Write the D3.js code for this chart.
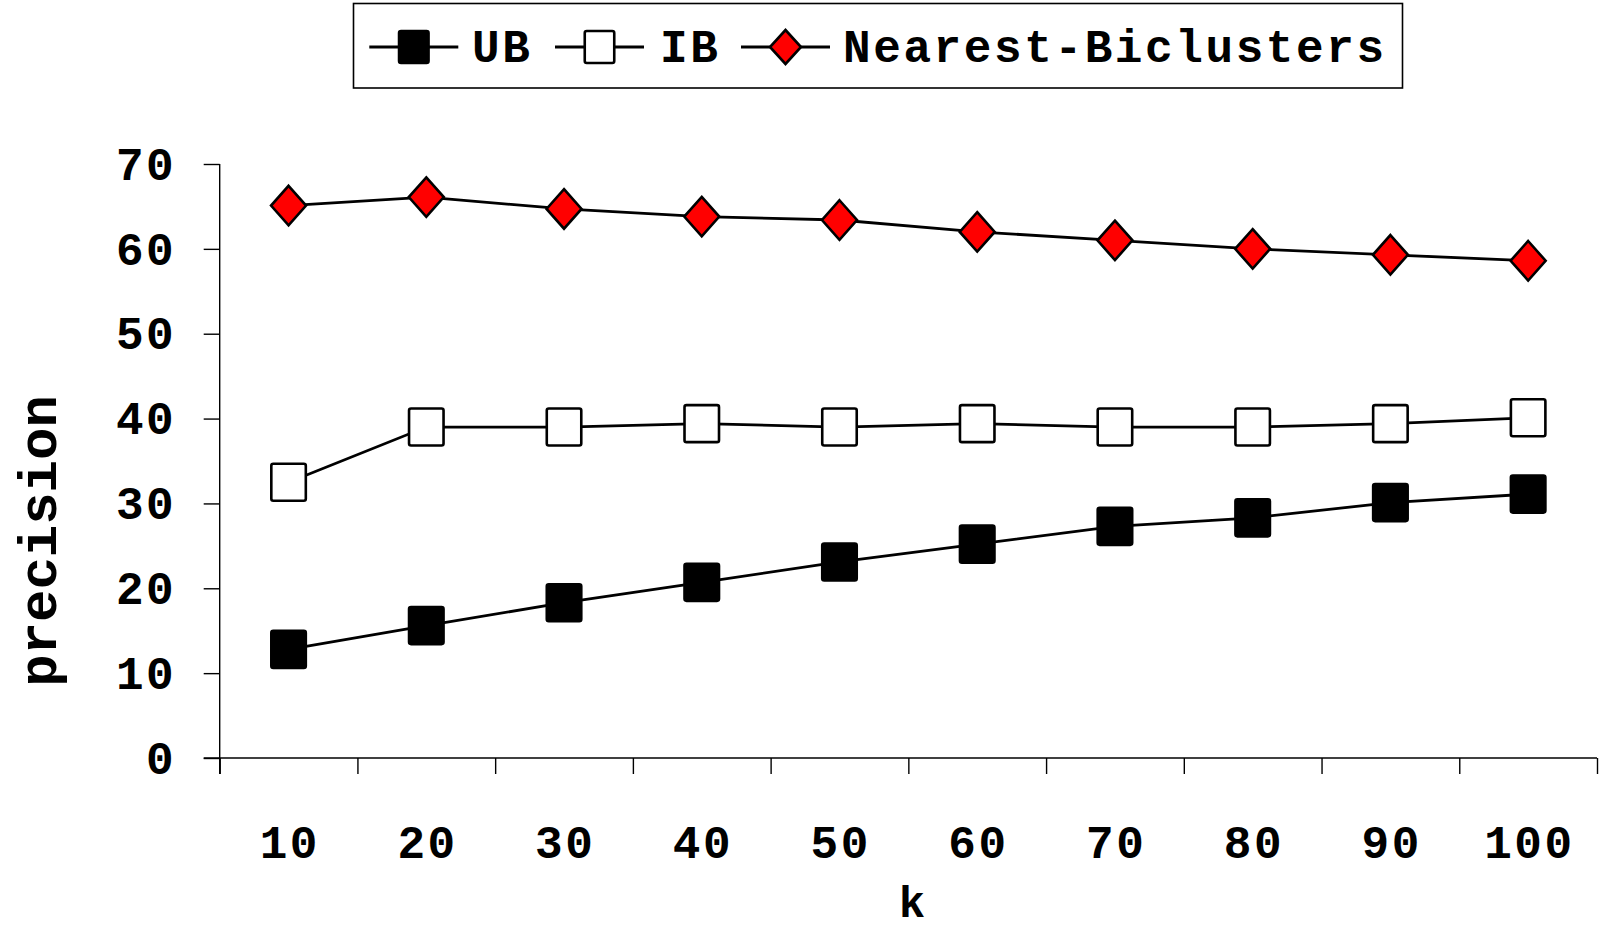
<!DOCTYPE html>
<html>
<head>
<meta charset="utf-8">
<script src="https://cdn.jsdelivr.net/npm/d3@7"></script>
<style>
  html, body { margin: 0; padding: 0; background: #fff; }
  svg { display: block; }
  text { font-family: "Liberation Mono", "DejaVu Sans Mono", monospace; font-weight: bold; fill: #000; }
</style>
</head>
<body>
<svg id="chart" width="1602" height="930"></svg>
<script>
// k values on the x axis
const categories = ["10", "20", "30", "40", "50", "60", "70", "80", "90", "100"];

// precision per method
const ubValues = [12.8, 15.6, 18.3, 20.7, 23.1, 25.2, 27.3, 28.3, 30.1, 31.1];
const ibValues = [32.5, 39.0, 39.0, 39.4, 39.0, 39.4, 39.0, 39.0, 39.4, 40.1];
const nbValues = [65.1, 66.1, 64.7, 63.8, 63.4, 62.0, 61.0, 60.0, 59.3, 58.6];

const seriesNames = ["UB", "IB", "Nearest-Biclusters"];
const yTicks = [0, 10, 20, 30, 40, 50, 60, 70];

const series = [
  { name: seriesNames[0], values: ubValues, shape: "square", fill: "#000" },
  { name: seriesNames[1], values: ibValues, shape: "square", fill: "#fff" },
  { name: seriesNames[2], values: nbValues, shape: "diamond", fill: "#ff0000" }
];

const svg = d3.select("#chart");

const plot = { left: 219.7, right: 1597, top: 164, bottom: 758 };

const x = d3.scaleBand().domain(categories).range([plot.left, plot.right]).padding(0);
const xEdge = d3.scaleLinear().domain([0, categories.length]).range([plot.left, plot.right]);
const y = d3.scaleLinear().domain([0, 70]).range([plot.bottom, plot.top]);

const FONT = 46;
const SPACING = 2.6;

// y axis
const yAxis = svg.append("g")
  .attr("transform", `translate(${plot.left},0)`)
  .call(d3.axisLeft(y).tickValues(yTicks).tickSize(16).tickPadding(30).tickSizeOuter(0));
yAxis.select(".domain").remove();
yAxis.selectAll(".tick line").attr("stroke", "#000").attr("stroke-width", 1.4);
yAxis.selectAll(".tick text")
  .style("font-size", FONT + "px")
  .style("letter-spacing", SPACING + "px")
  .attr("dy", "0.33em")
  .attr("x", -46 + SPACING);
yAxis.append("line")
  .attr("x1", 0).attr("x2", 0)
  .attr("y1", plot.top).attr("y2", plot.bottom + 16)
  .attr("stroke", "#000").attr("stroke-width", 1.4);

// x axis: baseline, boundary ticks and centred labels
svg.append("line")
  .attr("x1", plot.left - 16).attr("x2", plot.right)
  .attr("y1", plot.bottom).attr("y2", plot.bottom)
  .attr("stroke", "#000").attr("stroke-width", 1.4);

const xTicks = svg.append("g")
  .attr("transform", `translate(0,${plot.bottom})`)
  .call(d3.axisBottom(xEdge).tickValues(d3.range(0, categories.length + 1)).tickSize(16).tickFormat(""));
xTicks.select(".domain").remove();
xTicks.selectAll(".tick line").attr("stroke", "#000").attr("stroke-width", 1.4);

const xLabels = svg.append("g")
  .attr("transform", `translate(0,${plot.bottom})`)
  .call(d3.axisBottom(x).tickSize(0).tickPadding(0));
xLabels.select(".domain").remove();
xLabels.selectAll(".tick text")
  .style("font-size", FONT + "px")
  .style("letter-spacing", SPACING + "px")
  .attr("y", 100)
  .attr("dy", null)
  .attr("dx", SPACING / 2);

// axis titles
svg.append("text")
  .attr("transform", "translate(56,541) rotate(-90)")
  .attr("text-anchor", "middle")
  .style("font-size", "54px")
  .text("precision");

svg.append("text")
  .attr("x", 912).attr("y", 917)
  .attr("text-anchor", "middle")
  .style("font-size", "44px")
  .text("k");

// series lines and markers
const line = d3.line()
  .x((d, i) => x(categories[i]) + x.bandwidth() / 2)
  .y(d => y(d));

function drawMarker(g, shape, fill, w, h) {
  if (shape === "diamond") {
    g.append("path")
      .attr("d", `M0,${-h / 2}L${w / 2},0L0,${h / 2}L${-w / 2},0Z`)
      .attr("fill", fill).attr("stroke", "#000").attr("stroke-width", 2.6)
      .attr("stroke-linejoin", "miter");
  } else {
    g.append("rect")
      .attr("x", -w / 2).attr("y", -h / 2).attr("width", w).attr("height", h)
      .attr("rx", 2)
      .attr("fill", fill).attr("stroke", "#000").attr("stroke-width", 2.6);
  }
}

series.forEach(s => {
  svg.append("path")
    .datum(s.values)
    .attr("d", line)
    .attr("fill", "none")
    .attr("stroke", "#000")
    .attr("stroke-width", 2.8);
});

series.forEach(s => {
  const w = s.shape === "diamond" ? 35 : 34.5;
  const h = s.shape === "diamond" ? 39.5 : 37;
  s.values.forEach((v, i) => {
    const g = svg.append("g")
      .attr("transform", `translate(${x(categories[i]) + x.bandwidth() / 2},${y(v)})`);
    drawMarker(g, s.shape, s.fill, w, h);
  });
});

// legend
const legend = svg.append("g");
legend.append("rect")
  .attr("x", 353.5).attr("y", 3.5).attr("width", 1049).attr("height", 84.5)
  .attr("fill", "#fff").attr("stroke", "#000").attr("stroke-width", 1.6);

const legendLineStart = [369.3, 555, 741];
const legendTextStart = [472, 660, 843];
series.forEach((s, i) => {
  const lx = legendLineStart[i];
  const cy = 47;
  legend.append("line")
    .attr("x1", lx).attr("x2", lx + 89)
    .attr("y1", cy).attr("y2", cy)
    .attr("stroke", "#000").attr("stroke-width", 2.8);
  const g = legend.append("g").attr("transform", `translate(${lx + 44.5},${cy})`);
  if (s.shape === "diamond") drawMarker(g, s.shape, s.fill, 31, 34);
  else drawMarker(g, s.shape, s.fill, 29.5, 32);
  legend.append("text")
    .attr("x", legendTextStart[i]).attr("y", cy + 15)
    .style("font-size", FONT + "px")
    .style("letter-spacing", SPACING + "px")
    .text(s.name);
});
</script>
</body>
</html>
